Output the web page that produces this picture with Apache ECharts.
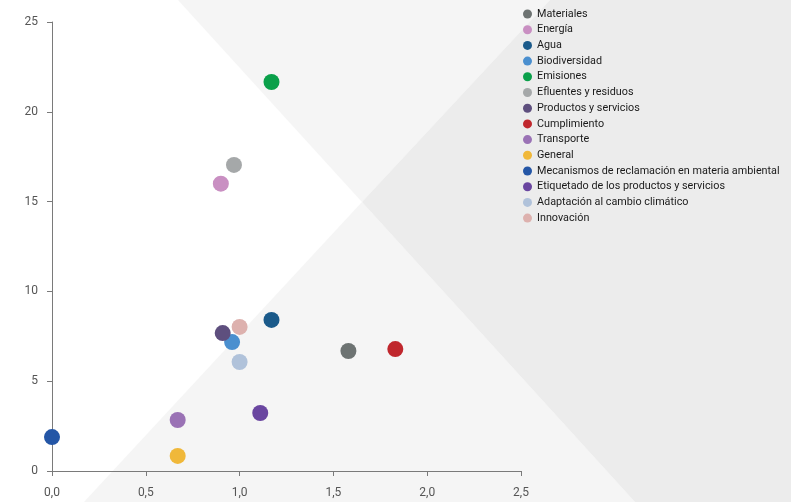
<!DOCTYPE html>
<html>
<head>
<meta charset="utf-8">
<script src="https://cdn.jsdelivr.net/npm/echarts@6/dist/echarts.min.js"></script>
<style>html,body{margin:0;padding:0;background:#fff;}#c{width:791px;height:502px;}</style>
</head>
<body>
<div id="c"></div>
<script>
const categories = ["Materiales","Energía","Agua","Biodiversidad","Emisiones","Efluentes y residuos","Productos y servicios","Cumplimiento","Transporte","General","Mecanismos de reclamación en materia ambiental","Etiquetado de los productos y servicios","Adaptación al cambio climático","Innovación"];
const xValues = [1.58, 0.90, 1.17, 0.96, 1.17, 0.97, 0.91, 1.83, 0.67, 0.67, 0.0, 1.11, 1.0, 1.0];
const yValues = [6.68, 16.0, 8.41, 7.18, 21.66, 17.04, 7.68, 6.79, 2.84, 0.84, 1.89, 3.23, 6.07, 8.02];
const colors = ["#6d7372","#c98fc2","#1b5a8a","#4a8fcf","#0aa04a","#a5a8a9","#5e4f7e","#c0272d","#9a72b5","#f0b83a","#2456a6","#6a46a0","#b0c2da","#ddb1ae"];
const xTicks = [0, 2.5, 0.5];
const yTicks = [0, 25, 5];

const chart = echarts.init(document.getElementById('c'), null, {renderer:'canvas'});
const series = categories.map((name,i)=>({
  name: name,
  type: 'scatter',
  symbol: 'circle',
  symbolSize: 16,
  itemStyle: {color: colors[i], opacity: 1},
  data: [[xValues[i], yValues[i]]],
  z: 3
}));
const fmt = v => v.toFixed(1).replace('.', ',');
chart.setOption({
  animation: false,
  backgroundColor: '#ffffff',
  color: colors,
  graphic: [
    {type:'polygon', z:-10, silent:true, shape:{points:[[178,0],[550,0],[362,202]]}, style:{fill:'#f5f5f5'}},
    {type:'polygon', z:-10, silent:true, shape:{points:[[84,502],[635,502],[362,202]]}, style:{fill:'#f5f5f5'}},
    {type:'polygon', z:-10, silent:true, shape:{points:[[550,0],[791,0],[791,502],[635,502],[362,202]]}, style:{fill:'#ececec'}}
  ],
  grid: {left:52, right:270, top:22, bottom:31, containLabel:false},
  legend: {
    orient:'vertical', left:518, top:3,
    icon:'circle', itemWidth:9, itemHeight:9, itemGap:3.7,
    textStyle:{fontFamily:'Roboto', fontSize:10.8, color:'#1a1a1a', lineHeight:12},
    data: categories
  },
  xAxis: {
    type:'value', min:xTicks[0], max:xTicks[1], interval:xTicks[2],
    splitLine:{show:false},
    axisLine:{show:true, onZero:false, lineStyle:{color:'#7a7a7a', width:1}},
    axisTick:{show:true, length:5, lineStyle:{color:'#7a7a7a'}},
    axisLabel:{margin:16, color:'#555', fontFamily:'Roboto', fontSize:12, formatter: fmt}
  },
  yAxis: {
    type:'value', min:yTicks[0], max:yTicks[1], interval:yTicks[2],
    splitLine:{show:false},
    axisLine:{show:true, onZero:false, lineStyle:{color:'#7a7a7a', width:1}},
    axisTick:{show:true, length:5, lineStyle:{color:'#7a7a7a'}},
    axisLabel:{margin:14, color:'#555', fontFamily:'Roboto', fontSize:12}
  },
  series: series
});
</script>
</body>
</html>
